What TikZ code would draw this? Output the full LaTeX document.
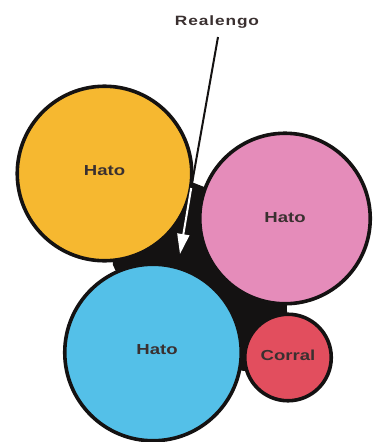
\documentclass[tikz,border=0pt]{standalone}
\usepackage{fontspec}
\usetikzlibrary{arrows.meta}
\newfontfamily\labfont{Liberation Sans}[FakeStretch=1.28]
\definecolor{cyellow}{RGB}{246,184,48}
\definecolor{cpink}{RGB}{229,140,186}
\definecolor{cblue}{RGB}{84,192,232}
\definecolor{cred}{RGB}{226,78,94}
\definecolor{ink}{RGB}{20,18,18}
\definecolor{txt}{RGB}{58,48,48}
\newcommand\ls{\kern0.9pt}
\tikzset{
  field/.style={circle, draw=ink, line width=3.6pt, inner sep=0pt, outer sep=0pt,
    font=\labfont\bfseries\fontsize{14.5}{15}\selectfont, text=txt},
  toplabel/.style={font=\labfont\bfseries\fontsize{13.5}{14}\selectfont, text=txt, inner sep=0pt},
}
\begin{document}
\begin{tikzpicture}[x=1pt,y=-1pt]
\useasboundingbox (0,0) rectangle (377,442);
\fill[white] (0,0) rectangle (377,442);
% centres
\coordinate (cy) at (104.5,173.5);
\coordinate (cp) at (285,218.5);
\coordinate (cb) at (153,352.5);
\coordinate (cr) at (288,357.5);
% black interstitial area (realengo)
\fill[ink] (cy) -- (194,183) -- (cp) -- (cr) -- (244,371) -- (cb) -- (113,265) -- cycle;
% fields
\node[field, fill=cyellow, minimum size=174.5pt] (hy) at (cy) {\raisebox{5pt}{Hato}};
\node[field, fill=cpink, minimum size=170.5pt] (hp) at (cp) {\raisebox{1pt}{Hato}};
\node[field, fill=cblue, minimum size=176.5pt] (hb) at (cb) {\raisebox{5pt}{\hspace*{8pt}Hato}};
\node[field, fill=cred, minimum size=86.5pt] (co) at (cr) {\raisebox{5pt}{Corral}};
% label and arrow
\node[toplabel] (re) at (217,22) {R\ls e\ls a\ls l\ls e\ls n\ls g\ls o};
\coordinate (a0) at (218,37);
\coordinate (am) at (191.2,188);
\coordinate (tip) at (180,254);
\draw[ink, line width=2pt] (a0) -- (am);
\draw[white, line width=2pt, -{Triangle[width=12pt,length=20pt]}] (am) -- (tip);
\end{tikzpicture}
\end{document}
